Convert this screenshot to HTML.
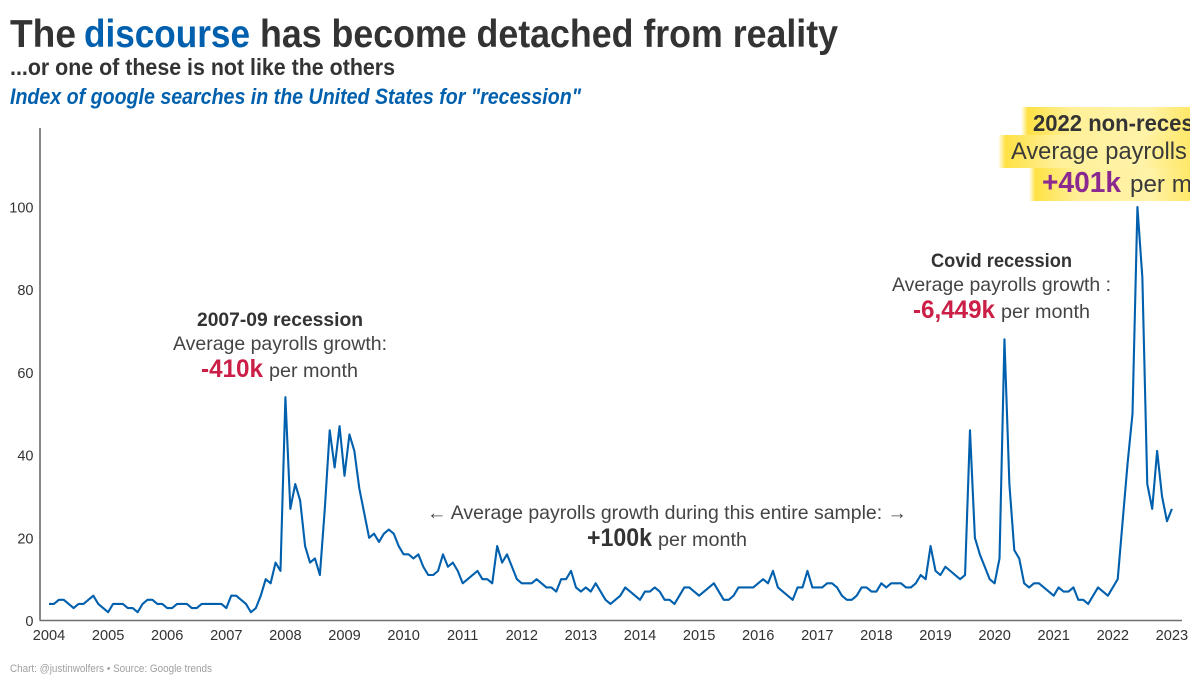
<!DOCTYPE html>
<html lang="en">
<head>
<meta charset="utf-8">
<title>The discourse has become detached from reality</title>
<style>
html,body{margin:0;padding:0;background:#fff;}
svg{display:block;}
text{font-family:"Liberation Sans",sans-serif;}
</style>
</head>
<body>
<svg id="chart" xmlns="http://www.w3.org/2000/svg" width="1200" height="684" viewBox="0 0 1200 684">
<defs>
<linearGradient id="hl" x1="0" x2="1" y1="0" y2="0">
<stop offset="0" stop-color="#ffffff"/>
<stop offset="0.04" stop-color="#ffe144"/>
<stop offset="0.3" stop-color="#fff098"/>
<stop offset="0.75" stop-color="#fff3a8"/>
<stop offset="1" stop-color="#ffe868"/>
</linearGradient>
<clipPath id="clip-right"><rect x="0" y="0" width="1190" height="684"/></clipPath>
</defs>
<rect x="0" y="0" width="1200" height="684" fill="#ffffff"/>

<g font-weight="700" font-size="39" fill="#333333">
<text x="10" y="47" textLength="66" lengthAdjust="spacingAndGlyphs">The</text>
<text x="84" y="47" textLength="166" lengthAdjust="spacingAndGlyphs" fill="#0060ad">discourse</text>
<text x="260" y="47" textLength="578" lengthAdjust="spacingAndGlyphs">has become detached from reality</text>
</g>
<text x="10" y="75" font-size="23.5" font-weight="700" fill="#333333" textLength="385" lengthAdjust="spacingAndGlyphs">...or one of these is not like the others</text>
<text x="10" y="104" font-size="22" font-weight="700" font-style="italic" fill="#0060ad" textLength="571" lengthAdjust="spacingAndGlyphs">Index of google searches in the United States for "recession"</text>

<g clip-path="url(#clip-right)">
<rect x="1021" y="107" width="169" height="28" fill="url(#hl)"/>
<rect x="998" y="135" width="192" height="33" fill="url(#hl)"/>
<rect x="1029" y="168" width="161" height="33" fill="url(#hl)"/>
<text x="1033" y="131" font-size="23.5" font-weight="700" fill="#333333" textLength="206" lengthAdjust="spacingAndGlyphs">2022 non-recession</text>
<text x="1011" y="159" font-size="24" fill="#3a3a3a" textLength="260" lengthAdjust="spacingAndGlyphs">Average payrolls growth:</text>
<text x="1042" y="192" font-size="29" font-weight="700" fill="#8a2a90" textLength="79" lengthAdjust="spacingAndGlyphs">+401k</text>
<text x="1130" y="192" font-size="24" fill="#3a3a3a" textLength="109" lengthAdjust="spacingAndGlyphs">per month</text>
</g>

<g>
<text x="197" y="326" font-size="19" font-weight="700" fill="#333333" textLength="166" lengthAdjust="spacingAndGlyphs">2007-09 recession</text>
<text x="173" y="350" font-size="19.5" fill="#444444" textLength="214" lengthAdjust="spacingAndGlyphs">Average payrolls growth:</text>
<text x="201" y="377" font-size="25" font-weight="700" fill="#cb1f47" textLength="62" lengthAdjust="spacingAndGlyphs">-410k</text>
<text x="269" y="377" font-size="19.5" fill="#444444" textLength="89" lengthAdjust="spacingAndGlyphs">per month</text>
</g>

<g>
<text x="931" y="267" font-size="19" font-weight="700" fill="#333333" textLength="141" lengthAdjust="spacingAndGlyphs">Covid recession</text>
<text x="892" y="291" font-size="19.5" fill="#444444" textLength="219" lengthAdjust="spacingAndGlyphs">Average payrolls growth :</text>
<text x="913" y="318" font-size="25" font-weight="700" fill="#cb1f47" textLength="82" lengthAdjust="spacingAndGlyphs">-6,449k</text>
<text x="1001" y="318" font-size="19.5" fill="#444444" textLength="89" lengthAdjust="spacingAndGlyphs">per month</text>
</g>

<g>
<text x="427" y="519" font-size="19.5" fill="#444444" textLength="480" lengthAdjust="spacingAndGlyphs">← Average payrolls growth during this entire sample: →</text>
<text x="587" y="546" font-size="25" font-weight="700" fill="#333333" textLength="65" lengthAdjust="spacingAndGlyphs">+100k</text>
<text x="658" y="546" font-size="19.5" fill="#444444" textLength="89" lengthAdjust="spacingAndGlyphs">per month</text>
</g>

<g id="axes"></g>
<g id="series"></g>

<text x="10" y="672" font-size="11" fill="#a0a0a0" textLength="202" lengthAdjust="spacingAndGlyphs">Chart: @justinwolfers • Source: Google trends</text>
</svg>

<script>
const startYear = 2004;
const yearTicks = [2004,2005,2006,2007,2008,2009,2010,2011,2012,2013,2014,2015,2016,2017,2018,2019,2020,2021,2022,2023];
const valueTicks = [0,20,40,60,80,100];
const searchIndex = [
4,4,5,5,4,3,4,4,5,6,4,3,
2,4,4,4,3,3,2,4,5,5,4,4,
3,3,4,4,4,3,3,4,4,4,4,4,
3,6,6,5,4,2,3,6,10,9,14,12,
54,27,33,29,18,14,15,11,27,46,37,47,
35,45,41,32,26,20,21,19,21,22,21,18,
16,16,15,16,13,11,11,12,16,13,14,12,
9,10,11,12,10,10,9,18,14,16,13,10,
9,9,9,10,9,8,8,7,10,10,12,8,
7,8,7,9,7,5,4,5,6,8,7,6,
5,7,7,8,7,5,5,4,6,8,8,7,
6,7,8,9,7,5,5,6,8,8,8,8,
9,10,9,12,8,7,6,5,8,8,12,8,
8,8,9,9,8,6,5,5,6,8,8,7,
7,9,8,9,9,9,8,8,9,11,10,18,
12,11,13,12,11,10,11,46,20,16,13,10,
9,15,68,33,17,15,9,8,9,9,8,7,
6,8,7,7,8,5,5,4,6,8,7,6,
8,10,24,38,50,100,83,33,27,41,30,24,
27
];

function xScale(monthIndex) { return 49 + monthIndex * 4.925; }
function yScale(value) { return 620.5 - value * 4.135; }

const NS = 'http://www.w3.org/2000/svg';
const axes = document.getElementById('axes');
const series = document.getElementById('series');

const yAxis = document.createElementNS(NS, 'line');


yAxis.setAttribute('x1', 40);
yAxis.setAttribute('x2', 40);
yAxis.setAttribute('y1', 128);
yAxis.setAttribute('y2', 620.5);
yAxis.setAttribute('stroke', '#3a3a3a');
yAxis.setAttribute('stroke-width', 1.2);
axes.appendChild(yAxis);

const xAxis = document.createElementNS(NS, 'line');


xAxis.setAttribute('x1', 39.5);
xAxis.setAttribute('x2', 1182);
xAxis.setAttribute('y1', 620.5);
xAxis.setAttribute('y2', 620.5);
xAxis.setAttribute('stroke', '#6f6f6f');
xAxis.setAttribute('stroke-width', 1.6);
axes.appendChild(xAxis);

valueTicks.forEach(function (v) {
  const t = document.createElementNS(NS, 'text');
  
  
  t.setAttribute('x', 33.5);
  t.setAttribute('y', yScale(v) + 5.5);
  t.setAttribute('text-anchor', 'end');
  t.setAttribute('font-size', 14.5);
  t.setAttribute('fill', '#333333');
  t.textContent = String(v);
  axes.appendChild(t);
});

yearTicks.forEach(function (yr) {
  const t = document.createElementNS(NS, 'text');
  
  
  t.setAttribute('x', xScale((yr - startYear) * 12));
  t.setAttribute('y', 640);
  t.setAttribute('text-anchor', 'middle');
  t.setAttribute('font-size', 14.6);
  t.setAttribute('fill', '#333333');
  t.textContent = String(yr);
  axes.appendChild(t);
});

const line = document.createElementNS(NS, 'path');


line.setAttribute('d', searchIndex.map(function (v, i) {
  return (i === 0 ? 'M' : 'L') + xScale(i).toFixed(2) + ' ' + yScale(v).toFixed(2);
}).join(' '));
line.setAttribute('fill', 'none');
line.setAttribute('stroke', '#0060ad');
line.setAttribute('stroke-width', 2.1);
line.setAttribute('stroke-linejoin', 'round');
series.appendChild(line);
</script>
</body>
</html>
